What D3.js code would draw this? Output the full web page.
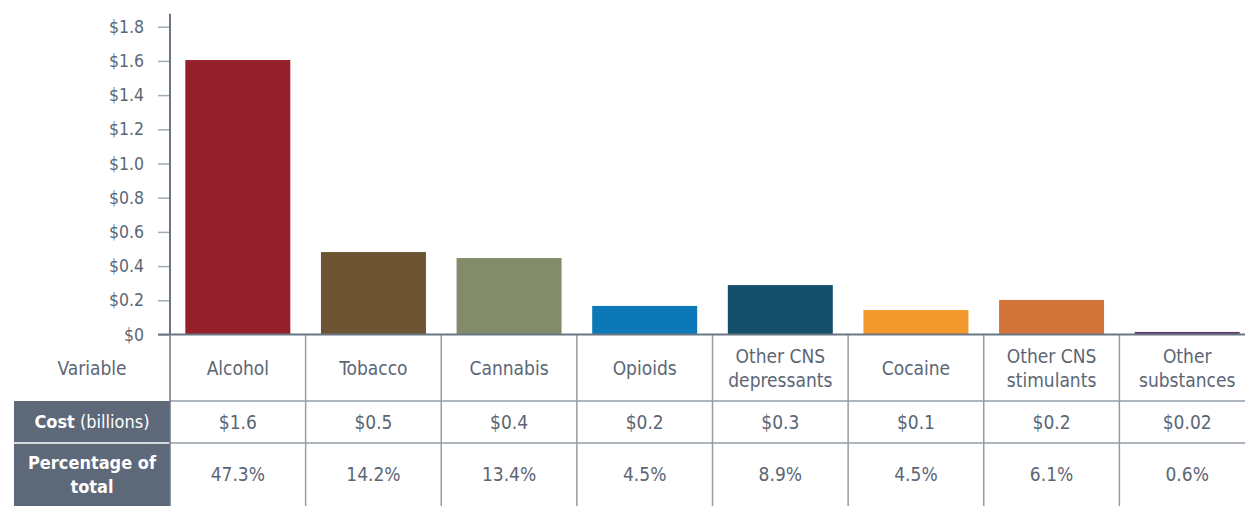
<!DOCTYPE html>
<html>
<head>
<meta charset="utf-8">
<script src="https://cdn.jsdelivr.net/npm/d3@7"></script>
<style>
  body { margin: 0; background: #fff; }
  svg text { font-family: "Liberation Sans Narrow", "DejaVu Sans Condensed", "Roboto", sans-serif; }
</style>
</head>
<body>
<div id="chart"></div>
<script>
var categories = ["Alcohol", "Tobacco", "Cannabis", "Opioids", "Other CNS depressants", "Cocaine", "Other CNS stimulants", "Other substances"];
var labelLines = [["Alcohol"], ["Tobacco"], ["Cannabis"], ["Opioids"], ["Other CNS", "depressants"], ["Cocaine"], ["Other CNS", "stimulants"], ["Other", "substances"]];
var costs = [1.605, 0.482, 0.447, 0.167, 0.289, 0.143, 0.202, 0.015];
var costLabels = ["$1.6", "$0.5", "$0.4", "$0.2", "$0.3", "$0.1", "$0.2", "$0.02"];
var percentLabels = ["47.3%", "14.2%", "13.4%", "4.5%", "8.9%", "4.5%", "6.1%", "0.6%"];
var colors = ["#951f2a", "#6c5331", "#838c69", "#0c78b8", "#164f6b", "#f4992b", "#d3753b", "#5f3b68"];
var yTicks = [0, 0.2, 0.4, 0.6, 0.8, 1.0, 1.2, 1.4, 1.6, 1.8];

var width = 1245, height = 506;
var axisColor = "#6b7683", gridColor = "#959ca7", textColor = "#5b6675";
var rows = [335, 401, 443, 510]; // table row edges
var headLeft = 14;
var fs = "19px";

var svg = d3.select("#chart").append("svg")
    .attr("width", width)
    .attr("height", height);

var x = d3.scaleBand()
    .domain(categories)
    .range([170, 1255])
    .paddingInner(0.226)
    .paddingOuter(0.113);
var y = d3.scaleLinear()
    .domain([0, 1.8])
    .range([334.5, 26.7]);

var step = x.step();
var colLeft = function(d){ return x(d) - step * x.paddingInner() / 2; };

// table grid
svg.append("rect")
    .attr("x", headLeft).attr("y", rows[1])
    .attr("width", x.range()[0] - headLeft).attr("height", rows[3] - rows[1])
    .attr("fill", "#5d6878");
svg.append("line")
    .attr("x1", headLeft).attr("x2", x.range()[0])
    .attr("y1", rows[2]).attr("y2", rows[2])
    .attr("stroke", "#fff").attr("stroke-width", 1.5);

[rows[1], rows[2]].forEach(function(r){
  svg.append("line")
      .attr("x1", x.range()[0]).attr("x2", width)
      .attr("y1", r).attr("y2", r)
      .attr("stroke", gridColor).attr("stroke-width", 1.5);
});
svg.selectAll("line.col").data(categories.slice(1))
  .enter().append("line")
    .attr("class", "col")
    .attr("x1", colLeft).attr("x2", colLeft)
    .attr("y1", rows[0]).attr("y2", rows[3])
    .attr("stroke", gridColor).attr("stroke-width", 1.5);
svg.append("line")
    .attr("x1", x.range()[0]).attr("x2", x.range()[0])
    .attr("y1", rows[0]).attr("y2", rows[3])
    .attr("stroke", axisColor).attr("stroke-width", 1.5);

// bars
svg.selectAll("rect.bar").data(categories)
  .enter().append("rect")
    .attr("class", "bar")
    .attr("x", d => x(d))
    .attr("width", x.bandwidth())
    .attr("y", (d, i) => y(costs[i]))
    .attr("height", (d, i) => y(0) - y(costs[i]))
    .attr("fill", (d, i) => colors[i]);

// y axis
var yAxis = svg.append("g")
    .attr("transform", "translate(" + x.range()[0] + ",0)")
    .call(d3.axisLeft(y).tickValues(yTicks).tickSize(12).tickPadding(14)
        .tickFormat(d => d === 0 ? "$0" : "$" + d.toFixed(1)));
yAxis.select(".domain").remove();
yAxis.selectAll(".tick line").attr("stroke", "#a3aab3").attr("stroke-width", 1.5);
yAxis.selectAll(".tick text").attr("fill", textColor).style("font-size", "17.5px");
svg.append("line")
    .attr("x1", x.range()[0]).attr("x2", x.range()[0])
    .attr("y1", y(1.8) - 13).attr("y2", y(0))
    .attr("stroke", axisColor).attr("stroke-width", 2);
svg.append("line")
    .attr("x1", x.range()[0] - 12).attr("x2", width)
    .attr("y1", y(0)).attr("y2", y(0))
    .attr("stroke", axisColor).attr("stroke-width", 2);

// table text
var midX = d => x(d) + x.bandwidth() / 2;
var headX = (headLeft + x.range()[0]) / 2;
var lh = 24;

svg.append("text")
    .attr("x", headX).attr("y", (rows[0] + rows[1]) / 2)
    .attr("text-anchor", "middle").attr("dy", "0.35em")
    .attr("fill", textColor).style("font-size", fs)
    .text("Variable");

svg.selectAll("text.cat").data(categories)
  .enter().append("text")
    .attr("class", "cat")
    .attr("text-anchor", "middle")
    .attr("fill", textColor).style("font-size", fs)
    .each(function(d, i){
      var lines = labelLines[i];
      var y0 = (rows[0] + rows[1]) / 2 - (lines.length - 1) * lh / 2;
      d3.select(this).selectAll("tspan").data(lines)
        .enter().append("tspan")
          .attr("x", midX(d))
          .attr("y", (l, j) => y0 + j * lh)
          .attr("dy", "0.35em")
          .text(l => l);
    });

svg.selectAll("text.cost").data(categories)
  .enter().append("text")
    .attr("class", "cost")
    .attr("x", midX).attr("y", (rows[1] + rows[2]) / 2)
    .attr("dy", "0.35em").attr("text-anchor", "middle")
    .attr("fill", textColor).style("font-size", fs)
    .text((d, i) => costLabels[i]);

svg.selectAll("text.pct").data(categories)
  .enter().append("text")
    .attr("class", "pct")
    .attr("x", midX).attr("y", (rows[2] + rows[3]) / 2 - 2)
    .attr("dy", "0.35em").attr("text-anchor", "middle")
    .attr("fill", textColor).style("font-size", fs)
    .text((d, i) => percentLabels[i]);

var costHead = svg.append("text")
    .attr("x", headX).attr("y", (rows[1] + rows[2]) / 2)
    .attr("dy", "0.35em").attr("text-anchor", "middle")
    .attr("fill", "#fff").style("font-size", "18px");
costHead.append("tspan").attr("font-weight", "bold").text("Cost");
costHead.append("tspan").text(" (billions)");

svg.append("text")
    .attr("text-anchor", "middle")
    .attr("fill", "#fff").attr("font-weight", "bold").style("font-size", "18px")
    .selectAll("tspan").data(["Percentage of", "total"])
    .enter().append("tspan")
      .attr("x", headX)
      .attr("y", (d, j) => (rows[2] + rows[3]) / 2 - 2 - lh / 2 + j * lh)
      .attr("dy", "0.35em")
      .text(d => d);
</script>
</body>
</html>
